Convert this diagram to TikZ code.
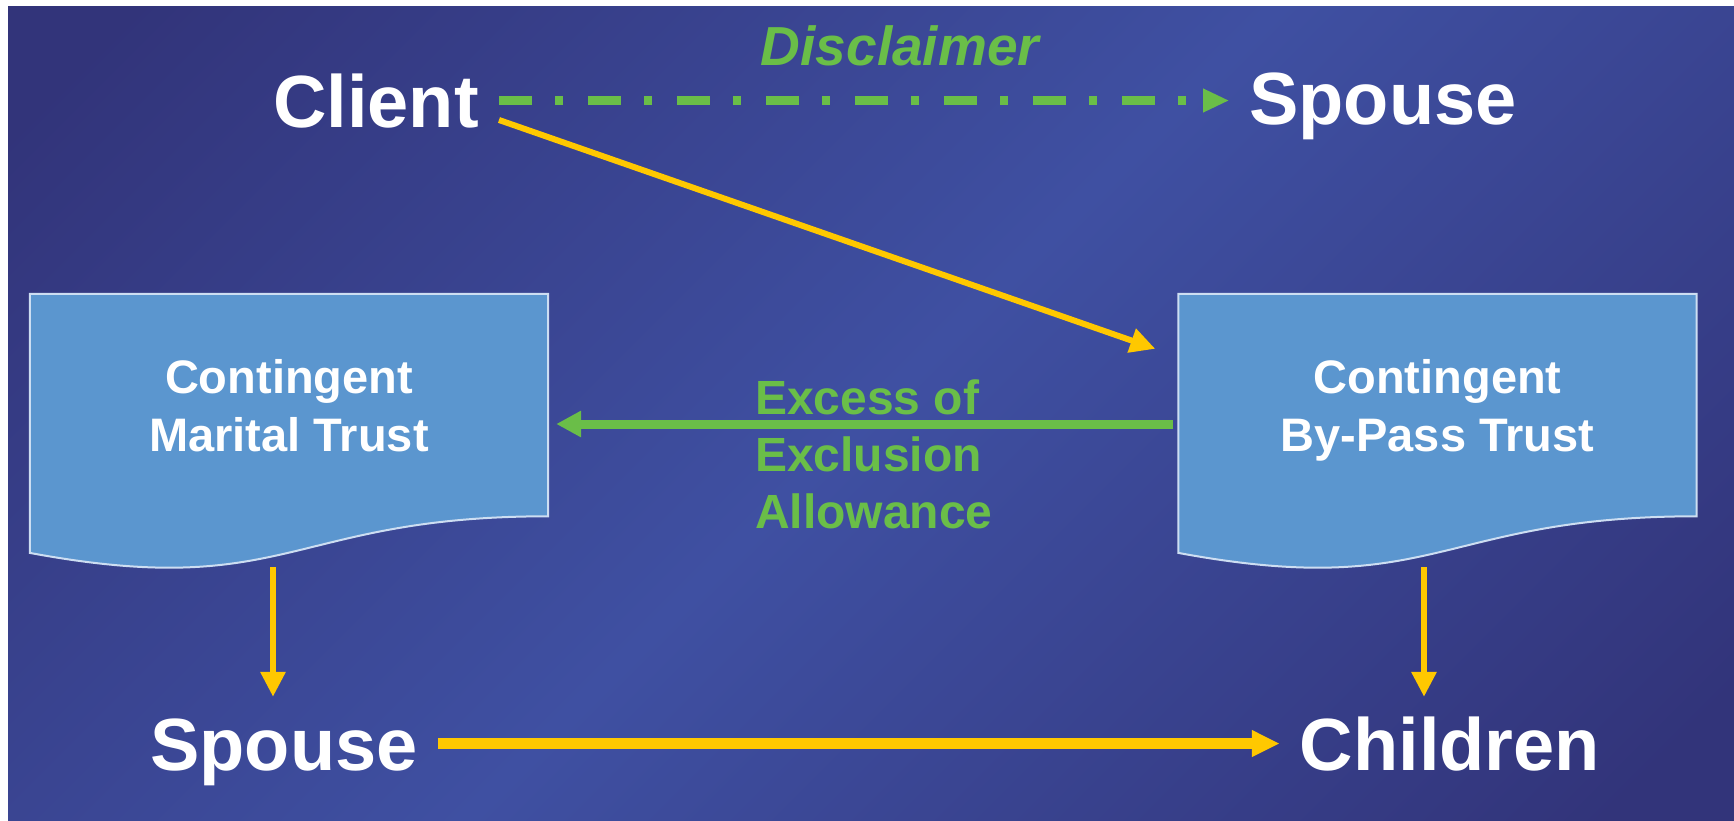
\documentclass[tikz,border=0pt]{standalone}
\usepackage{fontspec}
\setmainfont{Liberation Sans}
\usetikzlibrary{arrows.meta,calc}

\definecolor{bgdark}{RGB}{50,52,122}
\definecolor{bglight}{RGB}{63,80,162}
\definecolor{flowyellow}{RGB}{255,200,0}
\definecolor{flowgreen}{RGB}{106,190,72}
\definecolor{trustfill}{RGB}{91,150,207}
\definecolor{trustedge}{RGB}{205,222,242}

% diagonal slide background: dark corners, lighter middle band
\pgfdeclarehorizontalshading{slidebg}{100bp}{color(0bp)=(bgdark); color(18bp)=(bgdark); color(50bp)=(bglight); color(82bp)=(bgdark); color(100bp)=(bgdark)}

% flow-chart "document" outline around a named box node
\newcommand\trustoutline[1]{%
  \filldraw[fill=trustfill, draw=trustedge, line width=2pt]
    (#1.north west) -- (#1.north east)
    -- ($(#1.north east)!0.802!(#1.south east)$)
    .. controls ($(#1.north)!0.802!(#1.south)$) and ($(#1.north)!1.1075!(#1.south)$)
    .. ($(#1.north west)!0.934!(#1.south west)$) -- cycle;}

\begin{document}
\begin{tikzpicture}[x=1pt, y=-1pt,
  bigtext/.style={font=\bfseries\fontsize{74}{80}\selectfont, text=white,
    text height=53pt, text depth=0pt, inner xsep=20pt, inner ysep=20pt, anchor=base},
  trusttext/.style={font=\bfseries\fontsize{47}{58}\selectfont, text=white,
    align=center, inner sep=0pt, anchor=north},
  greentext/.style={font=\bfseries\fontsize{48}{57}\selectfont, text=flowgreen,
    align=left, inner sep=0pt, anchor=north west},
  trustbox/.style={minimum width=518pt, minimum height=277pt, inner sep=0pt},
  yarrow/.style={draw=flowyellow, line width=6pt, -{Triangle[length=25pt,width=24pt]}},
  garrow/.style={draw=flowgreen, line width=9pt, -{Triangle[length=25pt,width=25pt]}},
  dasharrow/.style={draw=flowgreen, line width=9pt,
    dash pattern=on 33pt off 23pt on 8pt off 25pt, -{Triangle[length=26pt,width=22pt]}}
]
\useasboundingbox (0,0) rectangle (1734,820);
\fill[white] (0,0) rectangle (1734,820);
\shade[shading=slidebg, shading angle=-45] (8,6) rectangle (1734,820);

% trusts
\node[trustbox] (box1) at (289,432.5) {};
\node[trustbox] (box2) at (1437.5,432.5) {};
\trustoutline{box1}
\trustoutline{box2}
\node[trusttext] (box1text) at (289,359) {Contingent\\Marital Trust};
\node[trusttext] (box2text) at (1437.5,359) {Contingent\\By-Pass Trust};

% people
\node[bigtext] (client) at (376,127) {Client};
\node[bigtext] (spouse1) at (1383,124) {Spouse};
\node[bigtext] (spouse2) at (284,770) {Spouse};
\node[bigtext] (children) at (1450,770) {Children};

% labels
\node[font=\bfseries\itshape\fontsize{55}{60}\selectfont, text=flowgreen,
  anchor=base, inner sep=0pt] (disclaimer) at (900,65) {Disclaimer};
\node[greentext] (excess) at (755,380) {Excess of\\Exclusion\\Allowance};

% connectors
\draw[dasharrow] (client.east) -- (client.east -| spouse1.west);
\draw[yarrow] (client.-9) -- ($(box2.north west)+(-23,55)$);
\draw[garrow] ($(box2.west)+(-5,-8.5)$) -- ($(box1.east)+(8,-8.5)$);
\coordinate (d1) at ($(box1.south)+(-16,-4)$);
\coordinate (d2) at ($(box2.south)+(-13.5,-4)$);
\draw[yarrow] (d1) -- (d1 |- spouse2.north);
\draw[yarrow] (d2) -- (d2 |- children.north);
\draw[yarrow, line width=11pt, -{Triangle[length=28pt,width=25pt]}] (spouse2.east) -- (children.west);
\end{tikzpicture}
\end{document}
